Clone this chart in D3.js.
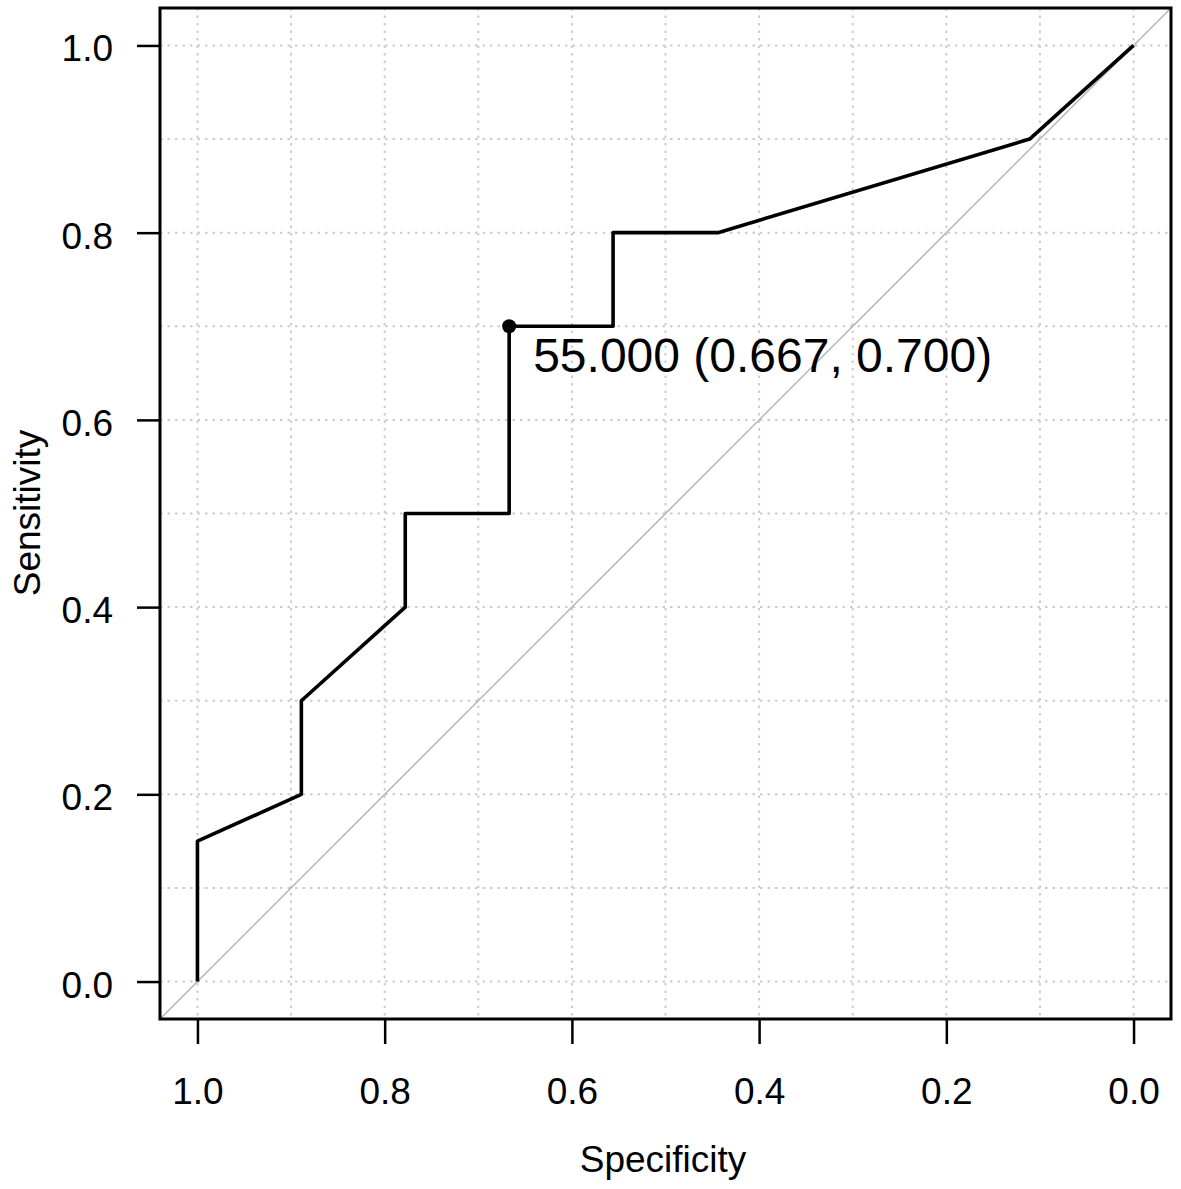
<!DOCTYPE html>
<html>
<head>
<meta charset="utf-8">
<script src="https://cdn.jsdelivr.net/npm/d3@7"></script>
<style>
  body { margin: 0; background: #fff; }
  svg text { font-family: "Liberation Sans", Arial, sans-serif; fill: #000; }
</style>
</head>
<body>
<script>
// ROC curve points (specificity, sensitivity)
const specificity = [1.0, 1.0, 0.889, 0.889, 0.778, 0.778, 0.667, 0.667, 0.556, 0.556, 0.444, 0.111, 0.0]
const sensitivity = [0.0, 0.15, 0.2, 0.3, 0.4, 0.5, 0.5, 0.7, 0.7, 0.8, 0.8, 0.9, 1.0]

// best threshold
const bestThreshold = [55.000]
const bestSpec = [0.667]
const bestSens = [0.700]

const tickValues = [0, 0.2, 0.4, 0.6, 0.8, 1.0]
const gridValues = [0, 0.1, 0.2, 0.3, 0.4, 0.5, 0.6, 0.7, 0.8, 0.9, 1.0]

const width = 1181, height = 1189
const plotLeft = 160, plotRight = 1171, plotTop = 8, plotBottom = 1019

let svg = d3.select("body").append("svg")
    .attr("width", width)
    .attr("height", height)

let x = d3.scaleLinear().domain([1.04, -0.04]).range([plotLeft, plotRight])
let y = d3.scaleLinear().domain([-0.04, 1.04]).range([plotBottom, plotTop])

// dotted grid
svg.append("g").selectAll("line")
    .data(gridValues)
    .enter()
    .append("line")
    .attr("x1", d => x(d)).attr("x2", d => x(d))
    .attr("y1", plotTop).attr("y2", plotBottom)
    .attr("stroke", "#cccccc").attr("stroke-width", 2)
    .attr("stroke-dasharray", "2.5,5")

svg.append("g").selectAll("line")
    .data(gridValues)
    .enter()
    .append("line")
    .attr("y1", d => y(d)).attr("y2", d => y(d))
    .attr("x1", plotLeft).attr("x2", plotRight)
    .attr("stroke", "#cccccc").attr("stroke-width", 2)
    .attr("stroke-dasharray", "2.5,5")

// chance diagonal across the whole plot region
svg.append("line")
    .attr("x1", x(1.04)).attr("y1", y(-0.04))
    .attr("x2", x(-0.04)).attr("y2", y(1.04))
    .attr("stroke", "#b4b4b4").attr("stroke-width", 1.5)

// roc line
let rocData = specificity.map((s, i) => [s, sensitivity[i]])
let line = d3.line().x(d => x(d[0])).y(d => y(d[1]))

svg.append("path")
    .datum(rocData)
    .attr("d", line)
    .attr("fill", "none")
    .attr("stroke", "#000")
    .attr("stroke-width", 3.6)
    .attr("stroke-linejoin", "round")

// best threshold point + label
svg.append("circle")
    .attr("cx", x(bestSpec[0])).attr("cy", y(bestSens[0]))
    .attr("r", 7)
    .attr("fill", "#000")

svg.append("text")
    .attr("x", x(bestSpec[0]) + 24)
    .attr("y", y(bestSens[0]) + 46)
    .attr("font-size", 48)
    .text(`${bestThreshold[0].toFixed(3)} (${bestSpec[0].toFixed(3)}, ${bestSens[0].toFixed(3)})`)

// box
svg.append("rect")
    .attr("x", plotLeft).attr("y", plotTop)
    .attr("width", plotRight - plotLeft).attr("height", plotBottom - plotTop)
    .attr("fill", "none").attr("stroke", "#000").attr("stroke-width", 3)

// axes
let xAxis = svg.append("g")
    .attr("transform", `translate(0, ${plotBottom})`)
    .call(d3.axisBottom(x).tickValues(tickValues).tickFormat(d3.format(".1f")).tickSize(25).tickPadding(34))
xAxis.select(".domain").remove()
xAxis.selectAll("line").attr("stroke-width", 2.5)
xAxis.selectAll("text").attr("font-size", 37)

let yAxis = svg.append("g")
    .attr("transform", `translate(${plotLeft}, 0)`)
    .call(d3.axisLeft(y).tickValues(tickValues).tickFormat(d3.format(".1f")).tickSize(23).tickPadding(24))
yAxis.select(".domain").remove()
yAxis.selectAll("line").attr("stroke-width", 2.5)
yAxis.selectAll("text").attr("font-size", 37).attr("dy", "0.42em")

// axis titles
svg.append("text")
    .attr("x", 663).attr("y", 1172)
    .attr("text-anchor", "middle")
    .attr("font-size", 37)
    .text("Specificity")

svg.append("text")
    .attr("transform", "translate(40, 513) rotate(-90)")
    .attr("text-anchor", "middle")
    .attr("font-size", 37)
    .text("Sensitivity")
</script>
</body>
</html>
